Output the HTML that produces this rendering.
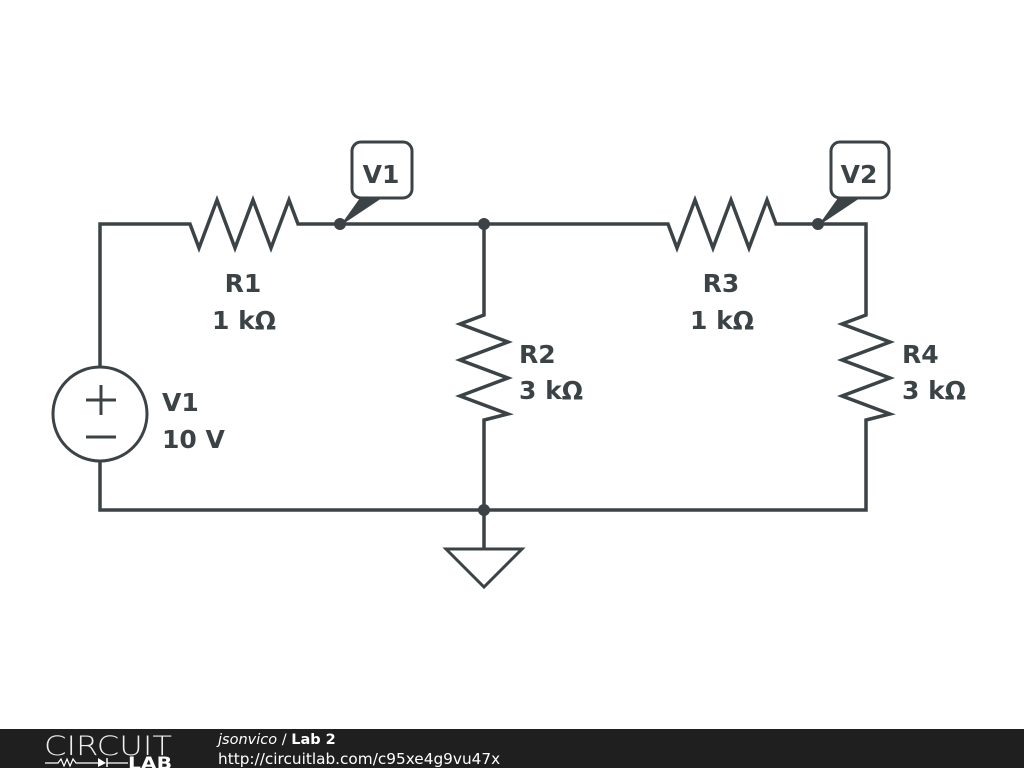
<!DOCTYPE html>
<html><head><meta charset="utf-8"><style>
html,body{margin:0;padding:0;background:#fff;width:1024px;height:768px;overflow:hidden}
svg{display:block}
</style></head><body>
<svg width="1024" height="768" viewBox="0 0 1024 768">
<g fill="none" stroke="#3c4347" stroke-width="3.5" stroke-linejoin="miter" stroke-linecap="butt">
<polyline points="100,366 100,224 190,224 199,248 217,200 235,248 253,200 271,248 289,200 298,224 668,224 677,248 695,200 713,248 731,200 749,248 767,200 776,224 866,224 866,315 842,324 890,342 842,360 890,378 842,396 890,414 866,420 866,510 100,510 100,462"/>
<polyline points="484,224 484,315 460,324 508,342 460,360 508,378 460,396 508,414 484,420 484,548"/>
<circle cx="100" cy="414" r="47" stroke-width="3"/>
<line x1="86" y1="400" x2="116" y2="400" stroke-width="3"/>
<line x1="101" y1="385" x2="101" y2="415" stroke-width="3"/>
<line x1="86" y1="437" x2="116" y2="437" stroke-width="3"/>
<polygon points="446,549 522,549 484,587" stroke-width="3"/>
<rect x="352" y="142" width="60" height="56" rx="9" stroke-width="3"/>
<rect x="831" y="142" width="58" height="56" rx="9" stroke-width="3"/>
</g>
<g fill="#3c4347">
<polygon points="360,198 382,198 340,226"/>
<polygon points="838,198 860,198 818,226"/>
<circle cx="340" cy="224" r="6"/><circle cx="818" cy="224" r="6"/>
<circle cx="484" cy="224" r="6"/><circle cx="484" cy="510" r="6"/>
</g>
<g font-family="'DejaVu Sans','Liberation Sans',sans-serif" font-weight="bold" font-size="25" fill="#3c4347">
<text x="381" y="183" text-anchor="middle">V1</text>
<text x="859" y="183" text-anchor="middle">V2</text>
<text x="243" y="292" text-anchor="middle">R1</text>
<text x="244" y="329" text-anchor="middle">1 kΩ</text>
<text x="721" y="292" text-anchor="middle">R3</text>
<text x="722" y="329" text-anchor="middle">1 kΩ</text>
<text x="519" y="363">R2</text>
<text x="519" y="399">3 kΩ</text>
<text x="902" y="363">R4</text>
<text x="902" y="399">3 kΩ</text>
<text x="162" y="411">V1</text>
<text x="162" y="448">10 V</text>
</g>
<rect x="0" y="729" width="1024" height="39" fill="#1f1f1f"/>
<g fill="#fff" font-family="'DejaVu Sans','Liberation Sans',sans-serif">
<text x="44" y="755" font-size="27" fill="#eee" font-weight="200" textLength="128" lengthAdjust="spacingAndGlyphs">CIRCUIT</text>
<polyline points="45,763 58,763 61,759 64,766 67,759 70,766 73,759 76,763 98,763" fill="none" stroke="#fff" stroke-width="1.2"/>
<polygon points="98,758 98,767 106,763" fill="#fff"/>
<line x1="107" y1="758" x2="107" y2="767" stroke="#fff" stroke-width="1.5"/>
<line x1="107" y1="763" x2="128" y2="763" stroke="#fff" stroke-width="1.2"/>
<text x="128" y="769" font-size="17" font-weight="bold" textLength="44" lengthAdjust="spacingAndGlyphs">LAB</text>
<text x="218" y="744" font-size="14.5"><tspan font-style="italic">jsonvico</tspan> / <tspan font-weight="bold">Lab 2</tspan></text>
<text x="218" y="764" font-size="15.3">http://circuitlab.com/c95xe4g9vu47x</text>
</g>
</svg>
</body></html>
